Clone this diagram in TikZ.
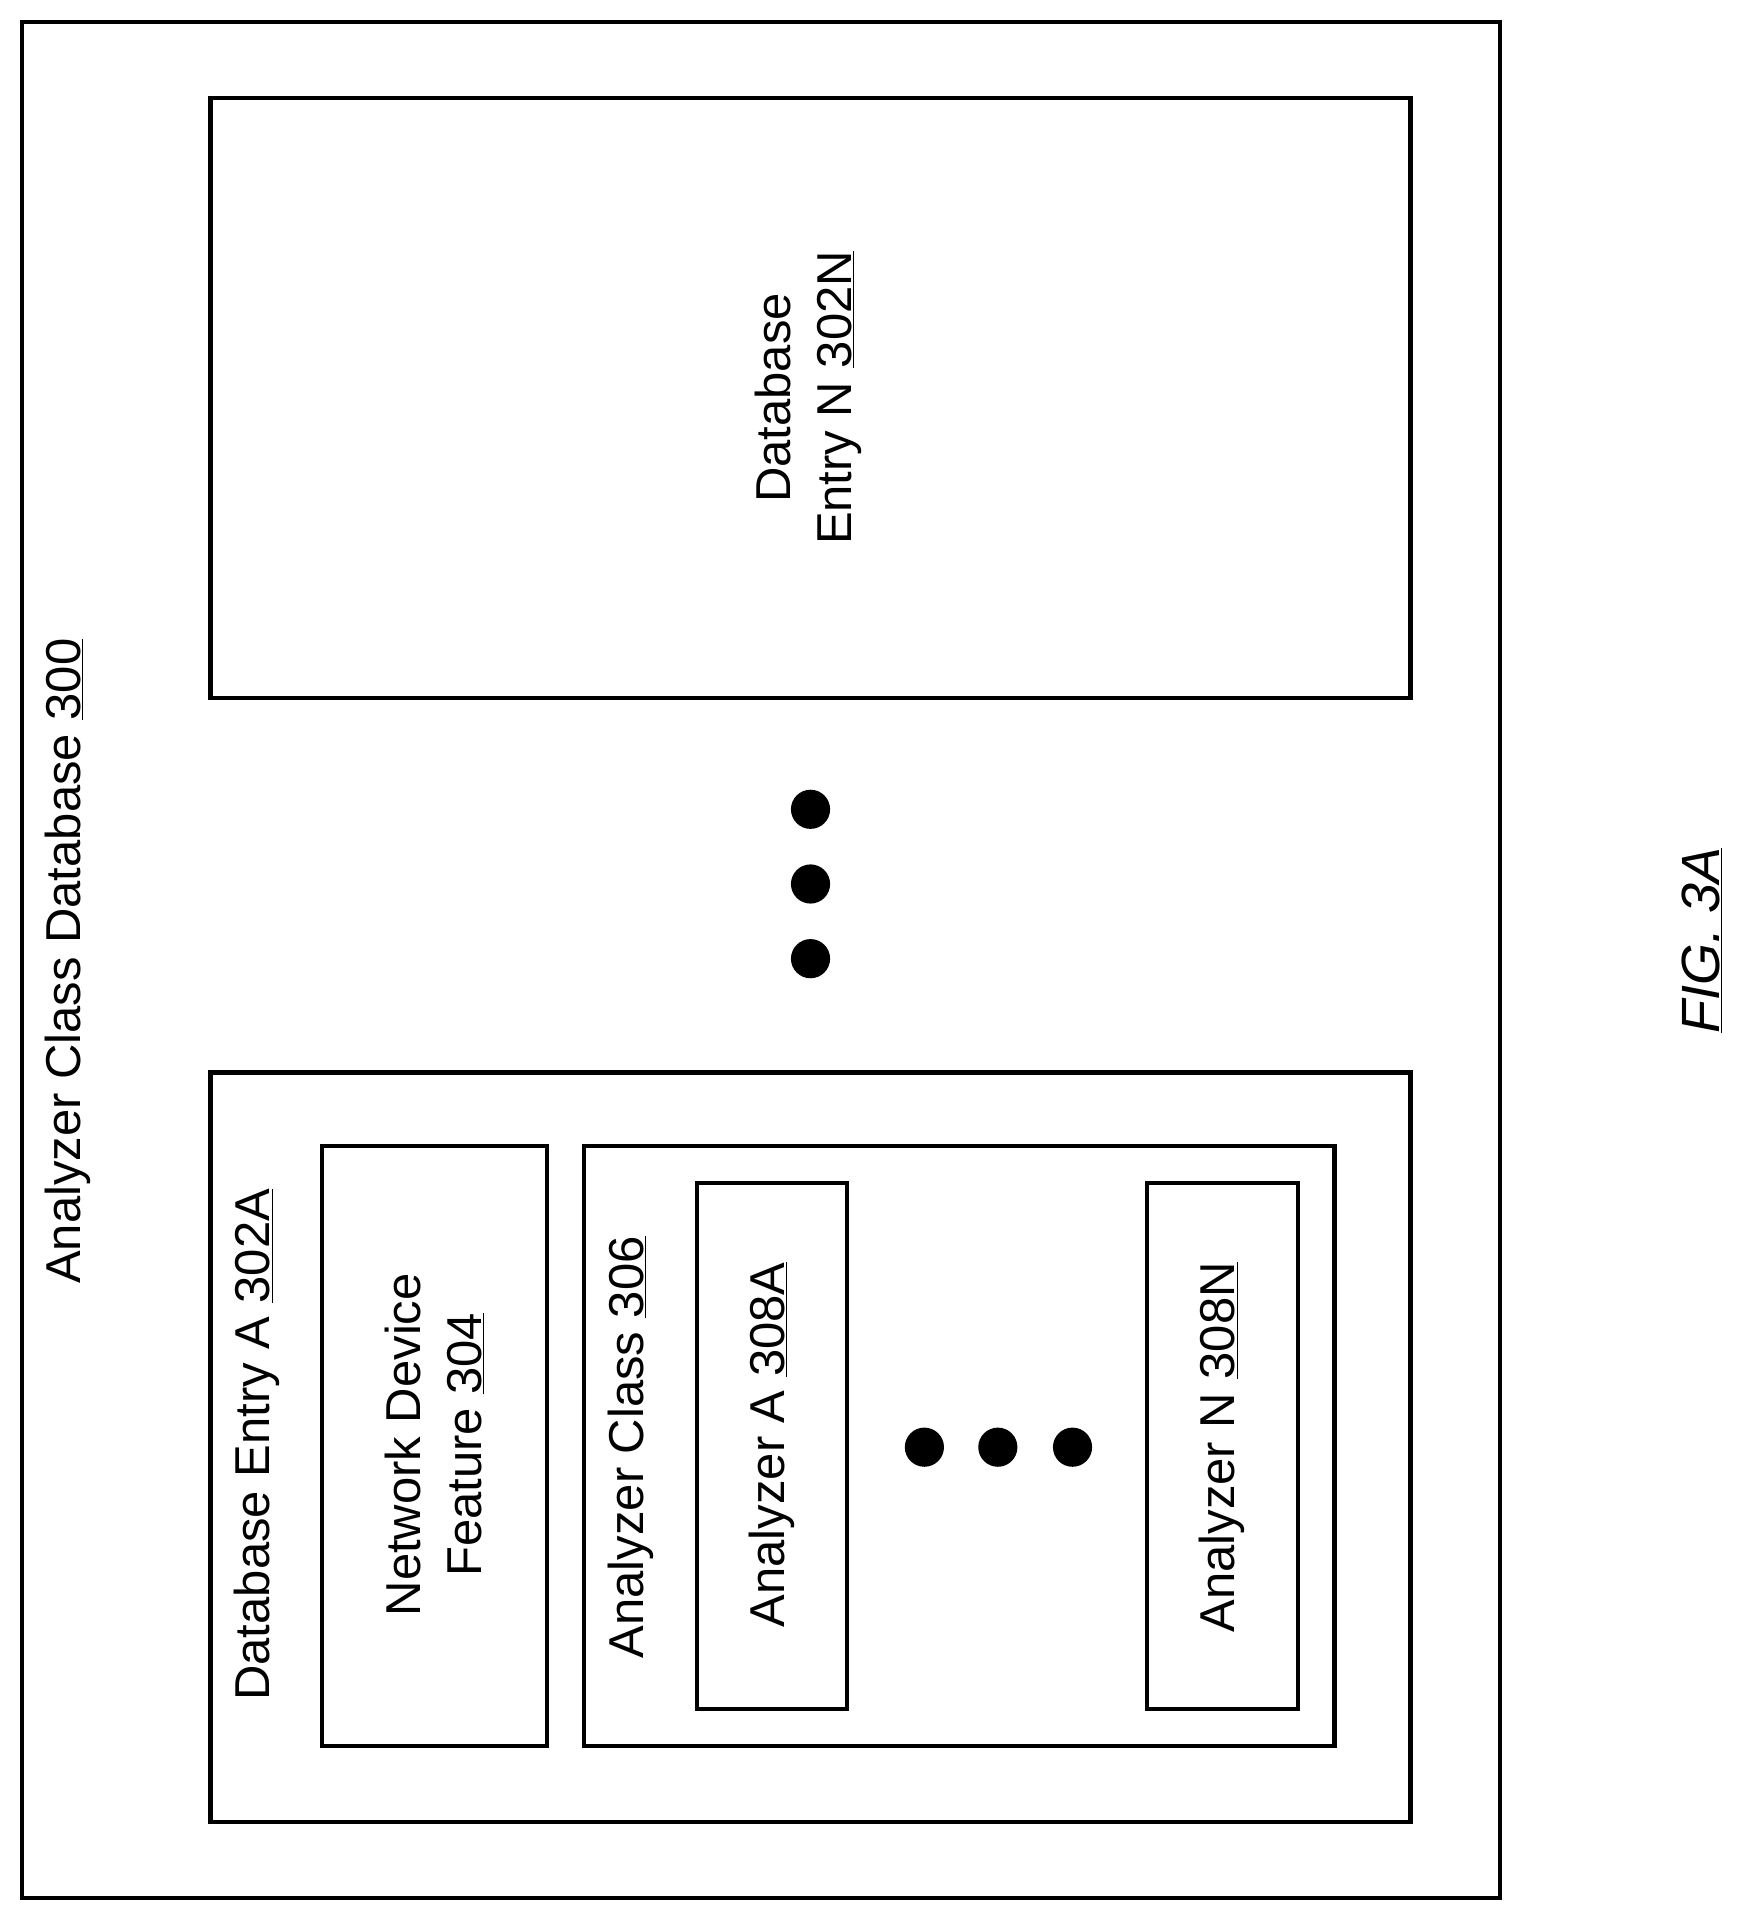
\documentclass[tikz,border=0pt]{standalone}
\usepackage{fontspec}
\setmainfont{Liberation Sans}
\begin{document}
\begin{tikzpicture}[x=1pt,y=-1pt,
  box/.style={draw=black, line width=3.5pt},
  lbl/.style={rotate=90, font=\fontsize{40}{50}\selectfont, align=center, inner sep=0pt},
  dot/.style={fill=black, circle, minimum size=32pt, inner sep=0pt}]

\useasboundingbox (0,0) rectangle (1433,1569);

% Outer database
\draw[box] (18,18) rectangle (1225,1550);
\node[lbl] (title) at (55,785) {Analyzer Class Database \underline{300}};

% Entry N
\draw[box] (172,80) rectangle (1152,570);
\node[lbl] (entryN) at (660,325) {Database\\Entry N \underline{302N}};

% Dots between entries
\foreach \y/\n in {661/a,722/b,783/c}
  \node[dot] (vdot\n) at (662,\y) {};

% Entry A
\draw[box] (172,876) rectangle (1152,1488);
\node[lbl] (entryA) at (210,1180) {Database Entry A \underline{302A}};

% Network device feature
\draw[box] (263,936) rectangle (447,1426);
\node[lbl] (feature) at (355,1180) {Network Device\\Feature \underline{304}};

% Analyzer class
\draw[box] (477,936) rectangle (1090,1426);
\node[lbl] (aclass) at (515,1182) {Analyzer Class \underline{306}};

\draw[box] (569,966) rectangle (692,1396);
\node[lbl] (anA) at (630,1180) {Analyzer A \underline{308A}};

\draw[box] (937,966) rectangle (1060,1396);
\node[lbl] (anN) at (998,1182) {Analyzer N \underline{308N}};

\foreach \x/\n in {755/a,815/b,876/c}
  \node[dot] (hdot\n) at (\x,1182) {};

% Figure label
\node[lbl, font=\fontsize{44}{50}\selectfont\itshape] (fig) at (1390,768) {\underline{FIG. 3A}};

\end{tikzpicture}
\end{document}
